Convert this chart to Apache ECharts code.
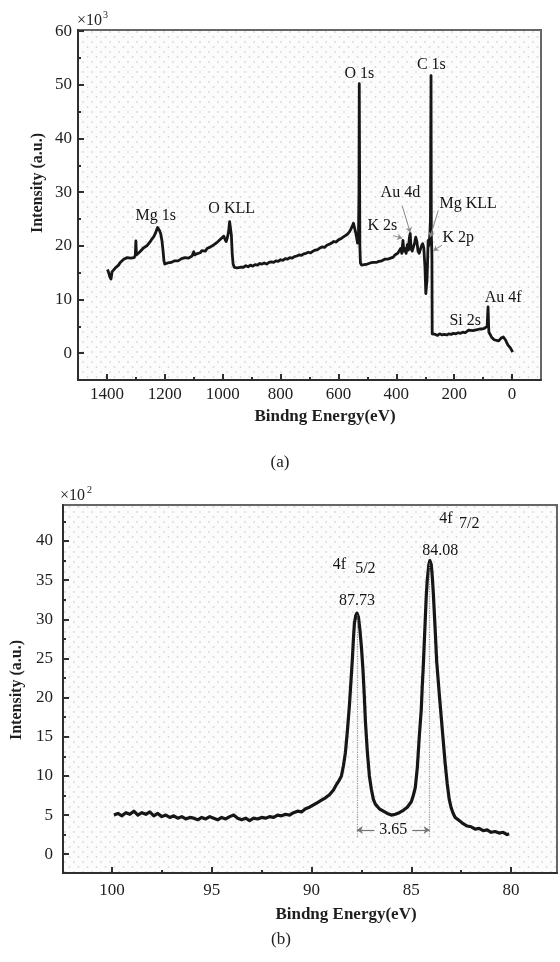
<!DOCTYPE html>
<html>
<head>
<meta charset="utf-8">
<script src="https://cdn.jsdelivr.net/npm/echarts@6/dist/echarts.min.js"></script>
<style>
html, body { margin: 0; padding: 0; background: #fff; }
#chart { width: 560px; height: 962px; }
</style>
</head>
<body>
<div id="chart"></div>
<script>
// (a) survey spectrum: [binding energy eV, intensity x10^3]
var surveySpectrum = [
  [1398, 15.6], [1394, 15.0], [1390, 14.2], [1386, 13.8], [1382, 15.2], [1378, 15.0], [1372, 15.8], [1366, 16.1],
  [1360, 16.4], [1354, 16.9], [1348, 17.0], [1342, 17.5], [1336, 17.3], [1330, 17.8], [1324, 18.1], [1318, 17.7],
  [1312, 18.0], [1306, 17.8], [1302, 18.2], [1300, 20.9], [1298, 18.3], [1292, 18.4], [1286, 18.9], [1280, 19.1],
  [1274, 19.6], [1268, 19.5], [1262, 20.0], [1256, 20.4], [1250, 20.8], [1244, 21.3], [1238, 21.7], [1232, 22.4],
  [1228, 23.0], [1225, 23.4], [1222, 23.1], [1218, 22.8], [1214, 22.2], [1210, 21.0], [1206, 19.0], [1203, 17.2],
  [1200, 16.6], [1196, 16.9], [1190, 16.8], [1184, 17.0], [1178, 16.9], [1172, 17.1], [1166, 17.2], [1160, 17.3],
  [1154, 17.2], [1148, 17.5], [1142, 17.6], [1136, 17.5], [1130, 17.8], [1124, 17.9], [1118, 17.7], [1112, 18.0],
  [1106, 18.1], [1102, 18.0], [1100, 18.9], [1097, 18.3], [1090, 18.5], [1084, 18.8], [1078, 18.7], [1072, 19.1],
  [1066, 19.2], [1060, 19.0], [1054, 19.5], [1048, 19.6], [1042, 19.8], [1036, 20.1], [1030, 20.2], [1024, 20.5],
  [1018, 20.7], [1012, 20.9], [1006, 21.3], [1000, 21.5], [996, 21.8], [992, 21.2], [988, 20.8], [984, 21.5],
  [980, 22.5], [976, 24.5], [973, 24.8], [970, 22.0], [967, 18.5], [964, 16.6], [960, 16.0], [955, 16.2],
  [950, 15.9], [945, 16.1], [940, 16.0], [935, 15.8], [928, 16.0], [920, 16.3], [912, 16.1], [904, 16.4],
  [896, 16.2], [888, 16.5], [880, 16.4], [872, 16.7], [864, 16.6], [856, 16.8], [848, 16.6], [840, 16.9],
  [832, 17.0], [824, 16.9], [816, 17.2], [808, 17.1], [800, 17.4], [792, 17.3], [784, 17.6], [776, 17.5],
  [768, 17.8], [760, 17.7], [752, 18.0], [744, 18.1], [736, 18.3], [728, 18.2], [720, 18.5], [712, 18.6],
  [704, 18.8], [696, 18.7], [688, 19.0], [680, 19.2], [672, 19.3], [664, 19.6], [656, 19.8], [648, 19.7],
  [640, 20.1], [632, 20.3], [624, 20.5], [616, 20.8], [608, 20.7], [600, 21.1], [592, 21.3], [584, 21.6],
  [576, 21.9], [568, 22.2], [562, 22.6], [556, 23.2], [551, 23.8], [548, 24.2], [545, 23.5], [541, 22.6],
  [537, 21.5], [534, 20.5], [531, 20.9], [529, 30.0], [528, 50.2], [527, 35.0], [526, 20.0], [524, 16.8],
  [520, 16.4], [515, 16.2], [510, 16.5], [505, 16.3], [500, 16.6], [495, 16.5], [490, 16.8], [485, 16.7],
  [480, 16.9], [475, 17.0], [470, 16.9], [465, 17.2], [460, 17.1], [455, 17.3], [450, 17.2], [445, 17.4],
  [440, 17.5], [435, 17.6], [430, 17.5], [425, 17.8], [420, 17.7], [415, 18.0], [410, 17.9], [405, 18.3],
  [400, 18.2], [395, 18.6], [390, 18.4], [385, 19.5], [381, 18.6], [377, 21.0], [374, 19.0], [370, 19.5],
  [366, 18.6], [362, 20.2], [358, 19.2], [355, 21.5], [352, 22.3], [349, 19.5], [345, 19.0], [341, 19.1],
  [337, 20.5], [333, 21.6], [329, 20.8], [325, 19.0], [321, 18.6], [317, 18.9], [313, 20.0], [309, 20.4],
  [305, 19.6], [301, 16.0], [298, 11.1], [296, 12.5], [294, 13.5], [292, 17.0], [290, 21.0], [288, 20.0],
  [286, 21.0], [284, 22.0], [282, 25.0], [281, 40.0], [280, 51.7], [279, 22.0], [278, 20.5], [277, 18.0],
  [276, 3.6], [272, 3.4], [265, 3.5], [258, 3.3], [250, 3.6], [242, 3.4], [234, 3.5], [226, 3.4],
  [218, 3.6], [210, 3.5], [202, 3.7], [194, 3.6], [186, 3.8], [178, 3.7], [170, 3.9], [162, 3.8],
  [156, 4.0], [150, 4.3], [144, 4.1], [136, 4.2], [128, 4.3], [120, 4.4], [112, 4.5], [104, 4.5],
  [96, 4.6], [90, 4.8], [86, 5.0], [84, 7.5], [83, 8.6], [82, 8.6], [81, 5.0], [80, 3.9],
  [77, 3.7], [74, 3.3], [70, 2.9], [66, 2.8], [62, 2.5], [58, 2.6], [54, 2.4], [50, 2.2],
  [46, 2.3], [42, 2.2], [38, 2.8], [34, 2.5], [30, 3.0], [26, 2.7], [22, 2.4], [18, 1.9],
  [14, 1.5], [10, 1.2], [6, 1.0], [2, 0.6], [-2, 0.2]
];

// (b) Au 4f region: [binding energy eV, intensity x10^2]
var au4fSpectrum = [
  [99.9, 5.0], [99.7, 5.2], [99.5, 4.9], [99.3, 5.3], [99.1, 5.1], [98.9, 5.5], [98.7, 5.0], [98.5, 5.3],
  [98.3, 5.1], [98.1, 5.4], [97.9, 4.9], [97.7, 5.2], [97.5, 4.8], [97.3, 5.0], [97.1, 4.7], [96.9, 4.9],
  [96.7, 4.6], [96.5, 4.8], [96.3, 4.5], [96.1, 4.7], [95.9, 4.6], [95.7, 4.4], [95.5, 4.7], [95.3, 4.5],
  [95.1, 4.8], [94.9, 4.6], [94.7, 4.4], [94.5, 4.7], [94.3, 4.5], [94.1, 4.8], [93.9, 5.0], [93.7, 4.6],
  [93.5, 4.4], [93.3, 4.6], [93.1, 4.3], [92.9, 4.6], [92.7, 4.5], [92.5, 4.7], [92.3, 4.6], [92.1, 4.8],
  [91.9, 4.7], [91.7, 5.0], [91.5, 4.9], [91.3, 5.1], [91.1, 5.0], [90.9, 5.3], [90.7, 5.5], [90.5, 5.4],
  [90.3, 5.8], [90.1, 6.0], [89.9, 6.3], [89.7, 6.6], [89.5, 6.9], [89.3, 7.2], [89.1, 7.6], [88.9, 8.2],
  [88.75, 8.9], [88.6, 9.5], [88.5, 10.0], [88.4, 11.3], [88.3, 13.0], [88.2, 15.8], [88.1, 19.0], [88.0, 23.0],
  [87.95, 25.0], [87.9, 27.5], [87.85, 29.5], [87.78, 30.5], [87.72, 30.8], [87.65, 30.3], [87.58, 28.8], [87.5, 26.5],
  [87.42, 23.5], [87.35, 20.0], [87.3, 17.0], [87.2, 13.0], [87.1, 10.0], [87.0, 8.3], [86.9, 7.0], [86.8, 6.4],
  [86.6, 5.8], [86.4, 5.5], [86.2, 5.2], [86.0, 5.0], [85.9, 4.9], [85.8, 5.1], [85.6, 5.3], [85.4, 5.6],
  [85.2, 6.0], [85.0, 6.7], [84.9, 7.5], [84.8, 8.5], [84.7, 11.0], [84.6, 15.0], [84.5, 18.5], [84.45, 21.5],
  [84.4, 24.0], [84.3, 30.0], [84.25, 33.0], [84.2, 35.0], [84.12, 37.0], [84.07, 37.5], [84.0, 37.0], [83.95, 35.5],
  [83.9, 33.5], [83.8, 28.5], [83.73, 24.7], [83.6, 20.5], [83.5, 17.5], [83.4, 14.5], [83.3, 11.5], [83.2, 9.0],
  [83.1, 7.0], [83.0, 5.9], [82.9, 5.2], [82.8, 4.7], [82.6, 4.3], [82.4, 3.9], [82.2, 3.6], [82.0, 3.5],
  [81.8, 3.2], [81.6, 3.3], [81.4, 3.0], [81.2, 3.1], [81.0, 2.8], [80.8, 2.9], [80.6, 2.7], [80.4, 2.8],
  [80.2, 2.5], [80.1, 2.6]
];

// tick values
var surveyXTicks = [0, 200, 400, 600, 800, 1000, 1200, 1400];
var surveyXMinor = [100, 300, 500, 700, 900, 1100, 1300];
var surveyYTicks = [0, 10, 20, 30, 40, 50, 60];
var surveyYMinor = [5, 15, 25, 35, 45, 55];
var au4fXTicks = [80, 85, 90, 95, 100];
var au4fXMinor = [82.5, 87.5, 92.5, 97.5];
var au4fYTicks = [0, 5, 10, 15, 20, 25, 30, 35, 40];
var au4fYMinor = [2.5, 7.5, 12.5, 17.5, 22.5, 27.5, 32.5, 37.5, 42.5];

// peak annotations: [text, energy, intensity]
var surveyLabels = [
  ['Mg 1s', 1231, 25.65], ['O KLL', 969, 26.8], ['O 1s', 528, 52.0], ['C 1s', 279, 53.7],
  ['Au 4d', 386, 29.8], ['Mg KLL', 152, 27.9], ['K 2s', 448, 23.8], ['K 2p', 186, 21.4],
  ['Au 4f', 31, 10.4], ['Si 2s', 162, 6.1]
];
var surveyLeaders = [
  [[380, 27.5], [352, 22.5]], [[410, 21.9], [380, 21.4]],
  [[255, 26.6], [283, 21.6]], [[242.5, 20.1], [272, 19.1]]
];
var au4fLabels = [
  ['4f', 88.6, 37.0], ['5/2', 87.3, 36.4], ['87.73', 87.72, 32.4],
  ['4f', 83.27, 42.9], ['7/2', 82.1, 42.2], ['84.08', 83.55, 38.7], ['3.65', 85.9, 3.1]
];
var peakPositions = [[87.73, 30.5], [84.08, 37.2]];
var splitArrows = [[86.85, 87.73], [84.95, 84.08]];
var splitLevel = 3.1;

var SERIF = '"Liberation Serif", "Times New Roman", serif';
var INK = '#161616';

function dotPattern() {
  var c = document.createElement('canvas');
  c.width = 9; c.height = 10;
  var g = c.getContext('2d');
  g.fillStyle = '#fcfcfd';
  g.fillRect(0, 0, 9, 10);
  g.fillStyle = '#d5d8dd';
  g.beginPath(); g.arc(2, 2, 0.9, 0, Math.PI * 2); g.fill();
  g.beginPath(); g.arc(6.5, 7, 0.9, 0, Math.PI * 2); g.fill();
  return c;
}

function mainAxis(pos, gridIndex, min, max, ticks, inverse, margin) {
  return {
    type: 'value', position: pos, gridIndex: gridIndex, min: min, max: max, inverse: inverse,
    axisLine: { show: true, onZero: false, lineStyle: { color: '#2e2e2e', width: 2 } },
    axisTick: { show: true, inside: true, length: 6, customValues: ticks, lineStyle: { color: '#2e2e2e', width: 2 } },
    axisLabel: {
      customValues: ticks, margin: margin, fontFamily: SERIF, fontSize: 17, color: '#1e1e1e',
      formatter: function (v) { return String(v); }
    },
    splitLine: { show: false }
  };
}

function minorAxis(pos, gridIndex, min, max, ticks, inverse) {
  return {
    type: 'value', position: pos, gridIndex: gridIndex, min: min, max: max, inverse: inverse,
    axisLine: { show: false, onZero: false },
    axisTick: { show: true, inside: true, length: 3, customValues: ticks, lineStyle: { color: '#2e2e2e', width: 2 } },
    axisLabel: { show: false },
    splitLine: { show: false }
  };
}

function labelSeries(list, xi, yi) {
  return {
    type: 'scatter', xAxisIndex: xi, yAxisIndex: yi, symbolSize: 0, silent: true,
    itemStyle: { color: INK, opacity: 1 },
    label: {
      show: true, position: 'inside', fontFamily: SERIF, fontSize: 16, color: '#141414',
      textBorderWidth: 0, opacity: 1,
      formatter: function (p) { return p.data[2]; }
    },
    data: list.map(function (d) { return [d[1], d[2], d[0]]; }),
    z: 5
  };
}

var chart = echarts.init(document.getElementById('chart'));
var pattern = dotPattern();

chart.setOption({
  animation: false,
  backgroundColor: '#ffffff',
  grid: [
    { left: 78, top: 30, right: 19, bottom: 582, show: true, borderColor: '#666', borderWidth: 2,
      backgroundColor: { image: pattern, repeat: 'repeat' } },
    { left: 63, top: 505, right: 3, bottom: 89, show: true, borderColor: '#666', borderWidth: 2,
      backgroundColor: { image: pattern, repeat: 'repeat' } }
  ],
  xAxis: [
    mainAxis('bottom', 0, -100, 1500, surveyXTicks, true, 6),
    mainAxis('bottom', 1, 77.7, 102.45, au4fXTicks, true, 9),
    minorAxis('bottom', 0, -100, 1500, surveyXMinor, true),
    minorAxis('bottom', 1, 77.7, 102.45, au4fXMinor, true)
  ],
  yAxis: [
    mainAxis('left', 0, -5, 60.2, surveyYTicks, false, 6),
    mainAxis('left', 1, -2.4, 44.6, au4fYTicks, false, 10),
    minorAxis('left', 0, -5, 60.2, surveyYMinor, false),
    minorAxis('left', 1, -2.4, 44.6, au4fYMinor, false)
  ],
  series: [
    {
      type: 'line', xAxisIndex: 0, yAxisIndex: 0, data: surveySpectrum,
      showSymbol: false, symbol: 'none', z: 3,
      lineStyle: { color: INK, width: 2.8, join: 'round' },
      markLine: {
        silent: true, animation: false, label: { show: false },
        lineStyle: { color: '#8a8a8a', width: 1, type: 'solid' },
        data: surveyLeaders.map(function (l) {
          return [{ coord: l[0], symbol: 'none' }, { coord: l[1], symbol: 'arrow', symbolSize: 5 }];
        })
      }
    },
    labelSeries(surveyLabels, 0, 0),
    {
      type: 'line', xAxisIndex: 1, yAxisIndex: 1, data: au4fSpectrum,
      showSymbol: false, symbol: 'none', z: 3,
      lineStyle: { color: INK, width: 3.2, join: 'round' },
      markLine: {
        silent: true, animation: false, label: { show: false },
        lineStyle: { color: '#9a9a9a', width: 1.2, type: 'dotted' },
        data: peakPositions.map(function (p) {
          return [{ coord: [p[0], 2.2], symbol: 'none' }, { coord: p, symbol: 'none' }];
        }).concat(splitArrows.map(function (a) {
          return [
            { coord: [a[0], splitLevel], symbol: 'none', lineStyle: { type: 'solid', color: '#777' } },
            { coord: [a[1], splitLevel], symbol: 'arrow', symbolSize: 6 }
          ];
        }))
      }
    },
    labelSeries(au4fLabels, 1, 1)
  ],
  graphic: [
    { type: 'text', x: 77, y: 21, style: { text: '×10', font: '16px ' + SERIF, fill: '#222', verticalAlign: 'middle' } },
    { type: 'text', x: 103, y: 15, style: { text: '3', font: '10px ' + SERIF, fill: '#222', verticalAlign: 'middle' } },
    { type: 'text', x: 60, y: 496, style: { text: '×10', font: '16px ' + SERIF, fill: '#222', verticalAlign: 'middle' } },
    { type: 'text', x: 87, y: 490, style: { text: '2', font: '10px ' + SERIF, fill: '#222', verticalAlign: 'middle' } },
    { type: 'text', x: 38, y: 183, rotation: Math.PI / 2,
      style: { text: 'Intensity (a.u.)', font: 'bold 16px ' + SERIF, fill: '#1e1e1e', align: 'center', verticalAlign: 'middle' } },
    { type: 'text', x: 17, y: 690, rotation: Math.PI / 2,
      style: { text: 'Intensity (a.u.)', font: 'bold 16px ' + SERIF, fill: '#1e1e1e', align: 'center', verticalAlign: 'middle' } },
    { type: 'text', x: 325, y: 417,
      style: { text: 'Bindng Energy(eV)', font: 'bold 17px ' + SERIF, fill: '#1e1e1e', align: 'center', verticalAlign: 'middle' } },
    { type: 'text', x: 346, y: 915,
      style: { text: 'Bindng Energy(eV)', font: 'bold 17px ' + SERIF, fill: '#1e1e1e', align: 'center', verticalAlign: 'middle' } },
    { type: 'text', x: 280, y: 463,
      style: { text: '(a)', font: '17px ' + SERIF, fill: '#222', align: 'center', verticalAlign: 'middle' } },
    { type: 'text', x: 281, y: 940,
      style: { text: '(b)', font: '17px ' + SERIF, fill: '#222', align: 'center', verticalAlign: 'middle' } }
  ]
});
</script>
</body>
</html>
